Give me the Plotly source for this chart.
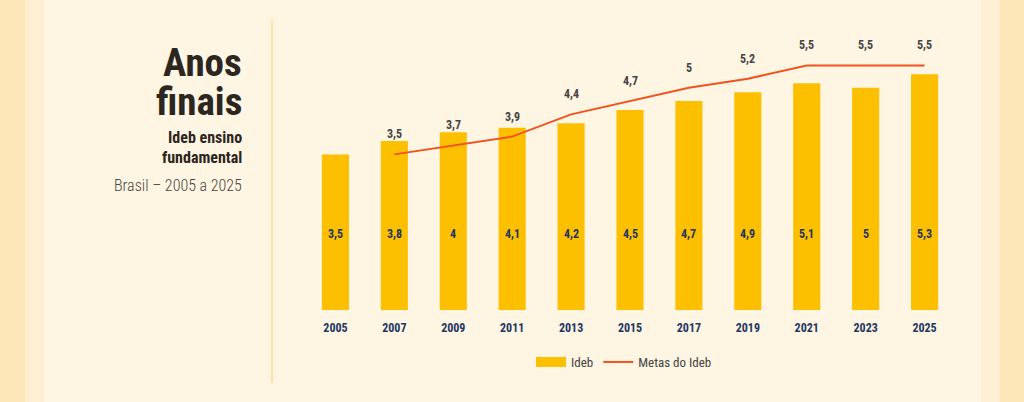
import plotly.graph_objects as go

# dados
anos = ["2005", "2007", "2009", "2011", "2013", "2015", "2017", "2019", "2021", "2023", "2025"]
ideb = [3.5, 3.8, 4.0, 4.1, 4.2, 4.5, 4.7, 4.9, 5.1, 5.0, 5.3]
anos_metas = ["2007", "2009", "2011", "2013", "2015", "2017", "2019", "2021", "2023", "2025"]
metas = [3.5, 3.7, 3.9, 4.4, 4.7, 5.0, 5.2, 5.5, 5.5, 5.5]


def fmt(v):
    # vírgula decimal
    return f"{v:g}".replace(".", ",")


W, H = 1024, 402
ML, MR, MT, MB = 306, 70, 21, 92
PW = W - ML - MR
PH = H - MT - MB

FONTE = "Roboto Condensed, Roboto, sans-serif"
AZUL = "#1f3562"
CINZA = "#444444"
AMARELO = "#fdc000"


def px_x(p):
    return (p - ML) / PW


def px_y(p):
    return (H - MB - p) / PH


fig = go.Figure()
fig.add_trace(go.Bar(x=anos, y=ideb, name="Ideb", marker_color=AMARELO,
                     marker_line_width=0, width=0.46, showlegend=False, legendgroup="ideb"))
# entrada de legenda retangular para as barras
fig.add_trace(go.Scatter(x=[None], y=[None], name="Ideb", mode="lines", legendgroup="ideb",
                         line=dict(color=AMARELO, width=10)))
fig.add_trace(go.Scatter(x=anos_metas, y=metas, name="Metas do Ideb", mode="lines",
                         line=dict(color="#f1521f", width=2)))

annotations = []
for a, v in zip(anos, ideb):
    annotations.append(dict(x=anos.index(a), y=1.7, text=f"<b>{fmt(v)}</b>", showarrow=False,
                            font=dict(family=FONTE, size=12, color=AZUL)))
for a, v in zip(anos_metas, metas):
    annotations.append(dict(x=anos.index(a), y=v, yshift=20, text=f"<b>{fmt(v)}</b>", showarrow=False,
                            font=dict(family=FONTE, size=12, color=CINZA)))

# títulos à esquerda
xr = px_x(244)
annotations += [
    dict(xref="paper", yref="paper", x=xr, y=px_y(63), text="<b>Anos</b>", showarrow=False,
         xanchor="right", yanchor="middle", font=dict(family=FONTE, size=39, color="#2b2620")),
    dict(xref="paper", yref="paper", x=xr, y=px_y(102), text="<b>finais</b>", showarrow=False,
         xanchor="right", yanchor="middle", font=dict(family=FONTE, size=39, color="#2b2620")),
    dict(xref="paper", yref="paper", x=xr, y=px_y(137), text="<b>Ideb ensino</b>", showarrow=False,
         xanchor="right", yanchor="middle", font=dict(family=FONTE, size=16, color="#2b2620")),
    dict(xref="paper", yref="paper", x=xr, y=px_y(157), text="<b>fundamental</b>", showarrow=False,
         xanchor="right", yanchor="middle", font=dict(family=FONTE, size=16, color="#2b2620")),
    dict(xref="paper", yref="paper", x=xr, y=px_y(185), text="Brasil – 2005 a 2025", showarrow=False,
         xanchor="right", yanchor="middle",
         font=dict(family=FONTE, size=16, color="#4a4540", weight=300)),
]

shapes = [
    dict(type="rect", xref="paper", yref="paper", x0=px_x(0), x1=px_x(25), y0=px_y(H), y1=px_y(0),
         fillcolor="#fde6b7", line_width=0, layer="below"),
    dict(type="rect", xref="paper", yref="paper", x0=px_x(25), x1=px_x(44), y0=px_y(H), y1=px_y(0),
         fillcolor="#feefd3", line_width=0, layer="below"),
    dict(type="rect", xref="paper", yref="paper", x0=px_x(981), x1=px_x(1000), y0=px_y(H), y1=px_y(0),
         fillcolor="#feefd3", line_width=0, layer="below"),
    dict(type="rect", xref="paper", yref="paper", x0=px_x(1000), x1=px_x(W), y0=px_y(H), y1=px_y(0),
         fillcolor="#fde6b7", line_width=0, layer="below"),
    dict(type="line", xref="paper", yref="paper", x0=px_x(272), x1=px_x(272), y0=px_y(20), y1=px_y(383),
         line=dict(color="#fde2a6", width=2)),
]

fig.update_layout(
    width=W, height=H,
    margin=dict(l=ML, r=MR, t=MT, b=MB),
    paper_bgcolor="#fef5e3", plot_bgcolor="#fef5e3",
    font=dict(family=FONTE, color=CINZA),
    annotations=annotations,
    shapes=shapes,
    legend=dict(orientation="h", x=px_x(624), y=px_y(362), xanchor="center", yanchor="middle",
                font=dict(family=FONTE, size=13, color=CINZA), bgcolor="rgba(0,0,0,0)",
                itemwidth=30),
    xaxis=dict(type="category", range=[-0.5, len(anos) - 0.5], showgrid=False, zeroline=False,
               showline=False, ticks="outside", ticklen=7, tickcolor="rgba(0,0,0,0)",
               tickfont=dict(family=FONTE, size=12, color=AZUL, weight="bold"), fixedrange=True),
    yaxis=dict(range=[0, 6.5], visible=False, fixedrange=True),
)

fig.write_html("out.html", config={"displayModeBar": False},
               post_script="document.body.style.margin='0';")
